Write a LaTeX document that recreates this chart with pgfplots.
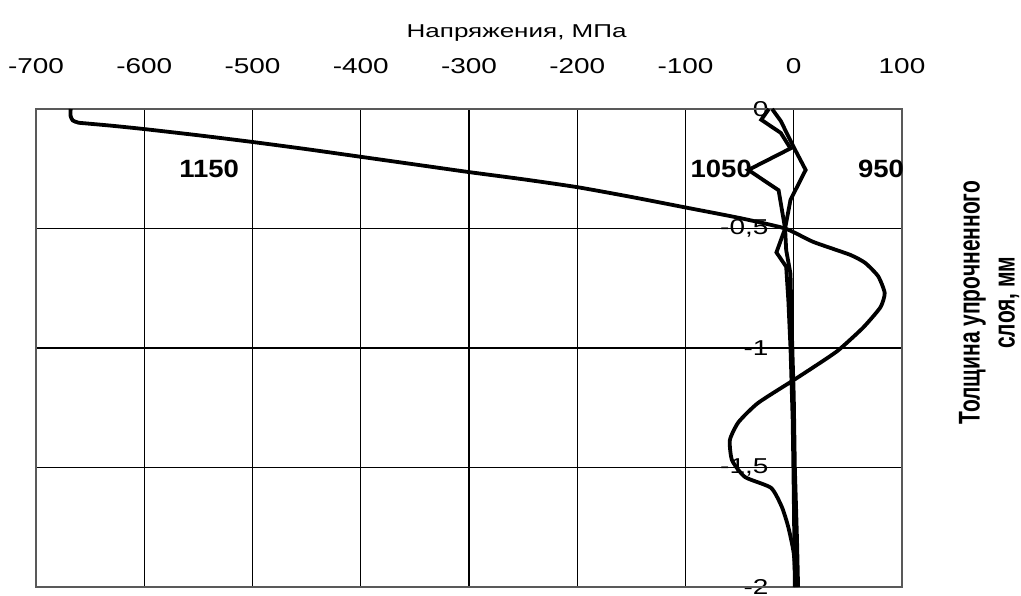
\documentclass[border=0pt]{standalone}
\usepackage{pgfplots}
\pgfplotsset{compat=1.18}
\usepackage{fontspec}
\setmainfont{Liberation Sans}[FakeStretch=1.3]
\newfontfamily\titlefont{Liberation Sans}[FakeStretch=1.4]
\newfontfamily\numfont{Liberation Sans}[FakeStretch=1.1]
\newfontfamily\ylabfont{Liberation Sans}[FakeStretch=0.7]
\begin{document}
\begin{tikzpicture}
\begin{axis}[
  name=ax,
  at={(0,0)}, anchor=south west,
  scale only axis, width=433pt, height=239pt,
  xmin=-700, xmax=100, ymin=-2, ymax=0,
  axis x line*=top, axis y line*=middle,
  axis line style={black, line width=0.6pt, -},
  xtick={-700,-600,...,100},
  ytick={-2,-1.5,-1,-0.5,0},
  hide obscured x ticks=false, hide obscured y ticks=false,
  major tick length=0pt,
  grid=major, major grid style={black, line width=0.6pt},
  /pgf/number format/assume math mode=true,
  /pgf/number format/use comma,
  xticklabel style={font=\fontsize{10.75}{12}\selectfont, anchor=base, yshift=17.5pt, inner sep=0pt},
  yticklabel style={font=\fontsize{10.75}{12}\selectfont, anchor=east, inner sep=0pt, xshift=-12.5pt},
  xlabel={Напряжения, МПа},
  xlabel style={at={(rel axis cs:0.555,1)}, anchor=base, yshift=35.5pt, inner sep=0pt, font=\titlefont\fontsize{9.3}{11}\selectfont},
  ylabel={Толщина упрочненного\\слоя, мм},
  ylabel style={at={(rel axis cs:1.1005,0.595)}, anchor=center, align=center, inner sep=0pt, font=\ylabfont\bfseries\fontsize{15}{17.5}\selectfont},
  clip=false,
]
\draw[gray!70!black, line width=0.8pt] (rel axis cs:0,0) rectangle (rel axis cs:1,1);
% 1150
\addplot[black, line width=1.9pt, smooth, tension=0.35] coordinates {
(-668,0) (-668,-0.03) (-666,-0.048) (-661,-0.057) (-652,-0.061) (-630,-0.07)
(-600,-0.084) (-550,-0.11) (-500,-0.138) (-450,-0.168) (-400,-0.200)
(-350,-0.232) (-300,-0.264) (-250,-0.294) (-200,-0.327) (-150,-0.368)
(-100,-0.412) (-50,-0.456) (-8,-0.5) (18,-0.556) (52,-0.61) (66,-0.644)
(78,-0.70) (84,-0.77) (80,-0.83) (64,-0.915) (41,-1.01) (20,-1.075)
(0,-1.134) (-33,-1.23) (-51,-1.31) (-59,-1.385) (-57,-1.47) (-45,-1.54)
(-21,-1.585) (-11,-1.665) (-5,-1.75) (0,-1.86) (2,-2)
};
% 1050
\addplot[black, line width=1.9pt] coordinates {
(-23,0) (-30,-0.045) (-12,-0.10) (-3,-0.165) (-42,-0.255) (-14,-0.34)
(-11,-0.42) (-8,-0.5) (-16,-0.6) (-7,-0.66) (-5,-0.8) (-3,-1.0)
(-1,-1.3) (0,-1.6) (1,-2)
};
% 950
\addplot[black, line width=1.9pt] coordinates {
(-20,0) (-12,-0.05) (0,-0.16) (11,-0.255) (-3,-0.38) (-8,-0.5)
(-7,-0.59) (-3,-0.69) (-2,-0.9) (0,-1.2) (1,-1.5) (3,-1.8) (4,-2)
};
\node[font=\numfont\bfseries\fontsize{12.5}{14}\selectfont] at (axis cs:-540,-0.251) {1150};
\node[font=\numfont\bfseries\fontsize{12.5}{14}\selectfont] at (axis cs:-67,-0.251) {1050};
\node[font=\numfont\bfseries\fontsize{12.5}{14}\selectfont] at (axis cs:80.6,-0.251) {950};
\end{axis}
\pgfresetboundingbox
\path (-18pt,-4pt) rectangle (492.5pt,293.5pt);
\end{tikzpicture}
\end{document}
